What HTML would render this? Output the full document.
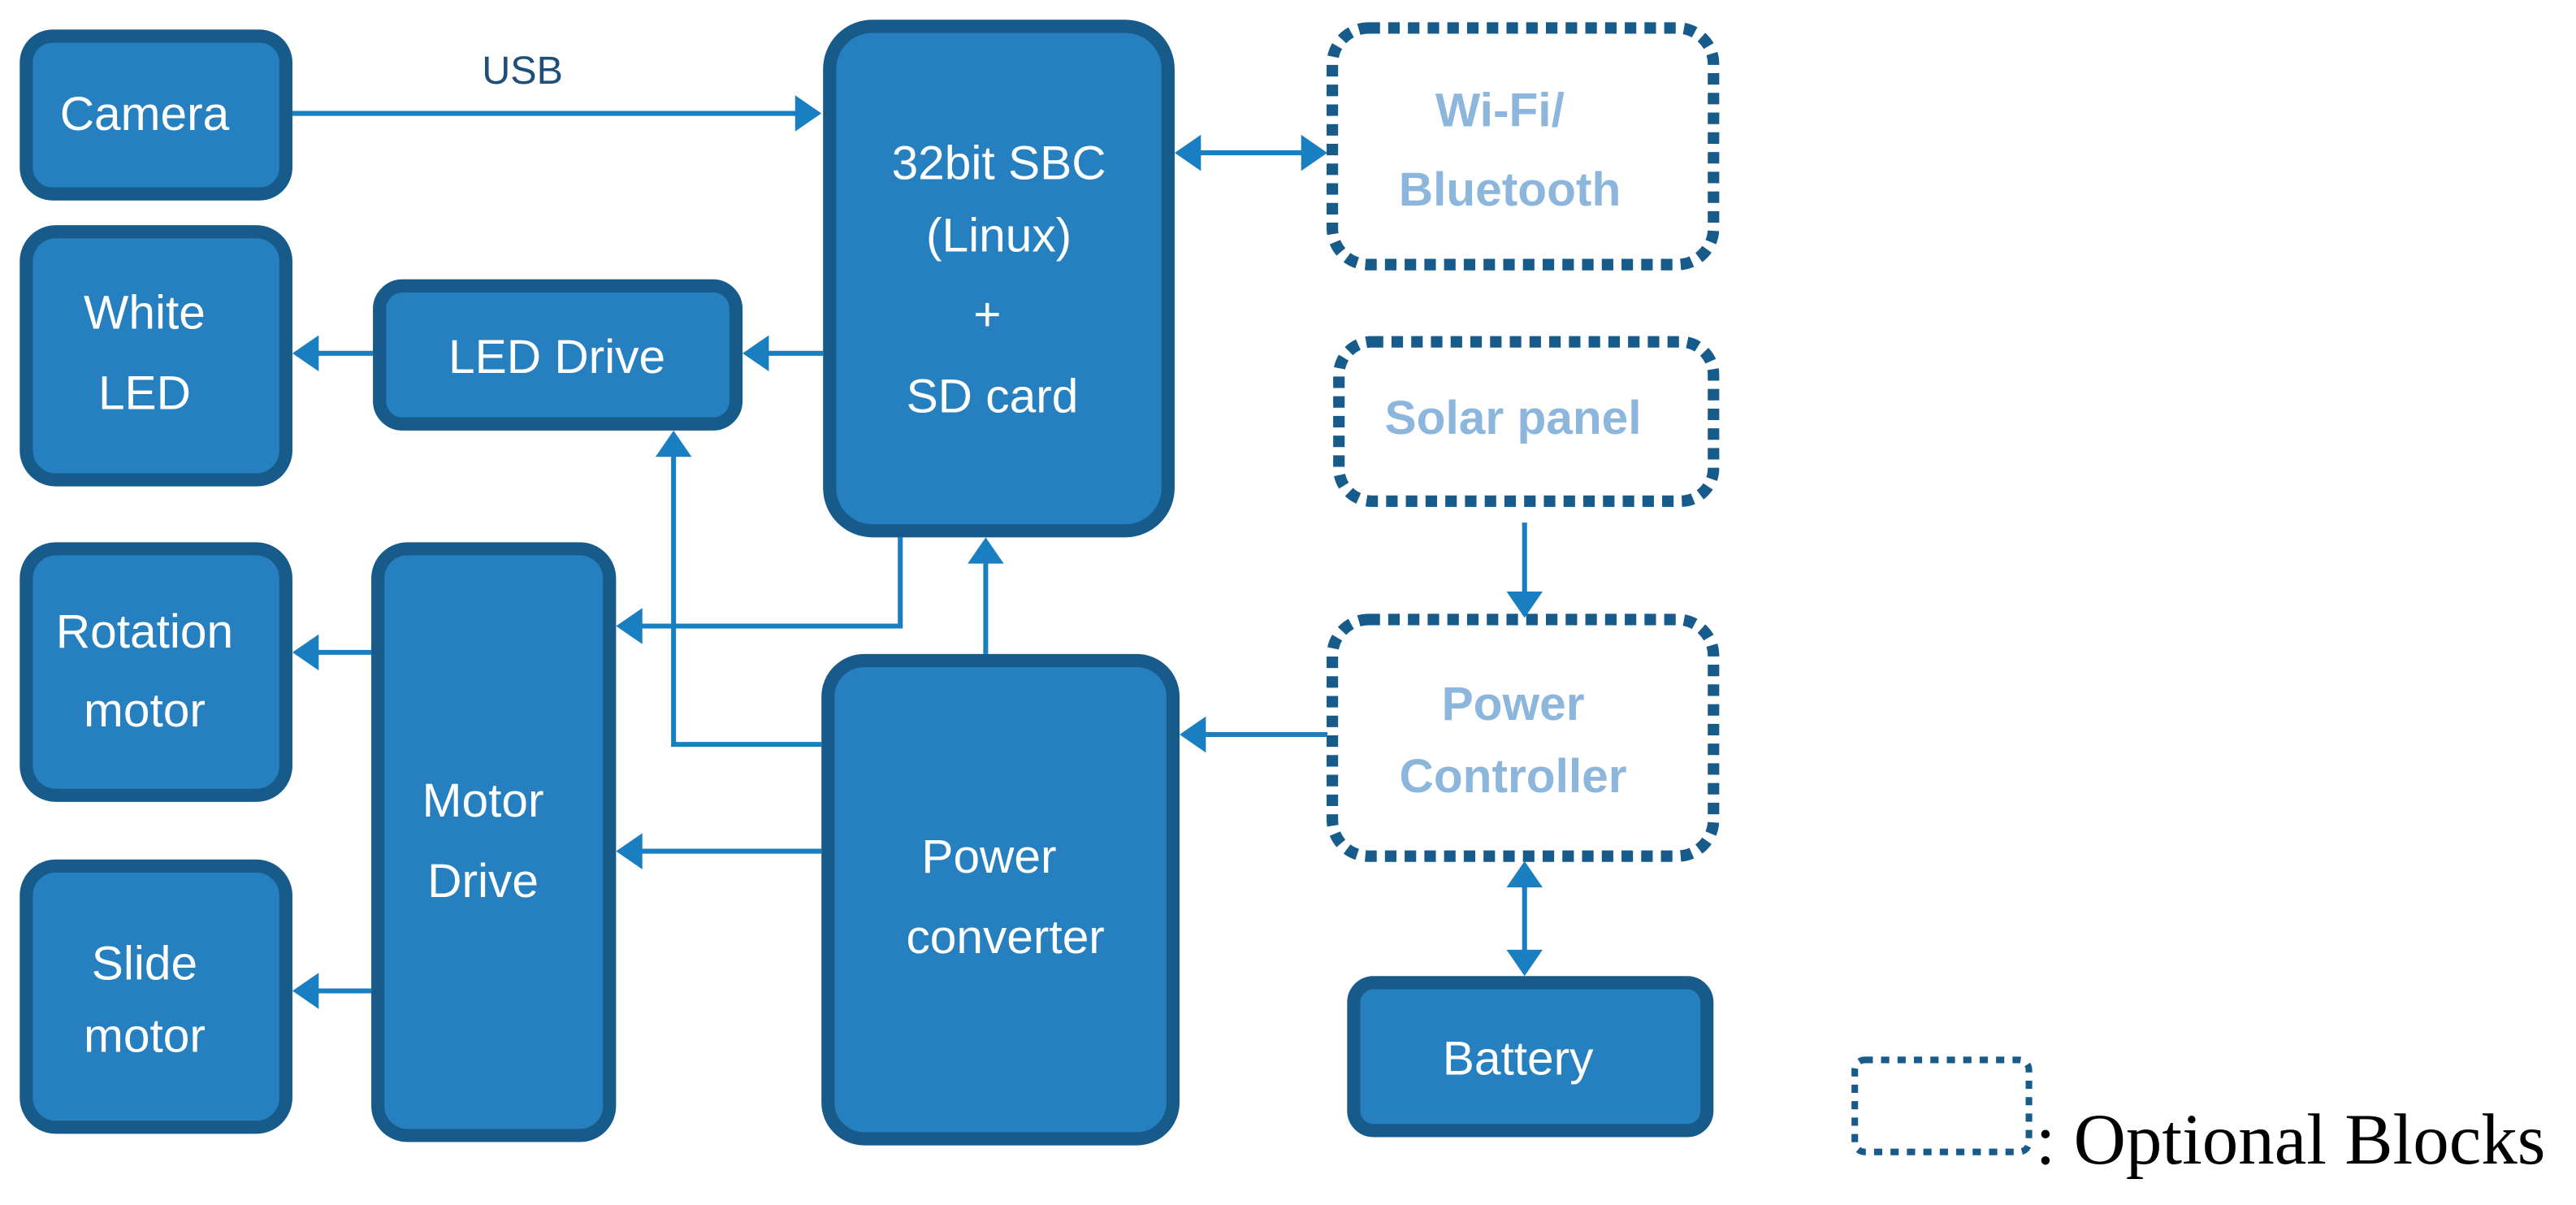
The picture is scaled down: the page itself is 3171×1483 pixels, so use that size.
<!DOCTYPE html>
<html><head><meta charset="utf-8"><style>
html,body{margin:0;padding:0;background:#fff;}
svg{display:block;}
</style></head><body>
<svg width="3171" height="1483" viewBox="0 0 1568 733.3" xmlns="http://www.w3.org/2000/svg">
<g fill="#2680c0" stroke="#175b8b" stroke-width="8">
<rect x="16" y="22" width="158" height="96" rx="16"/>
<rect x="16" y="141" width="158" height="151" rx="18"/>
<rect x="231" y="174" width="217" height="84" rx="14"/>
<rect x="505" y="16" width="206" height="307" rx="26"/>
<rect x="16" y="334" width="158" height="150" rx="18"/>
<rect x="230" y="334" width="141" height="357" rx="18"/>
<rect x="16" y="527" width="158" height="159" rx="18"/>
<rect x="504" y="402" width="210" height="291" rx="22"/>
<rect x="824" y="598" width="215" height="90" rx="12"/>
</g>
<g fill="none" stroke="#175b8b" stroke-width="7" stroke-dasharray="7 5">
<rect x="811" y="17" width="232" height="144" rx="22"/>
<rect x="815" y="208" width="228" height="97" rx="20"/>
<rect x="811" y="377" width="232" height="144" rx="22"/>
<rect x="1129" y="645" width="106" height="56" rx="6" stroke-width="4" stroke-dasharray="5 5"/>
</g>
<g stroke="#1a7fc1" stroke-width="3" fill="none">
<line x1="178" y1="69" x2="486" y2="69"/>
<line x1="730" y1="93" x2="793" y2="93"/>
<line x1="501" y1="215" x2="466" y2="215"/>
<line x1="227" y1="215" x2="192" y2="215"/>
<polyline points="548,327 548,381 389,381"/>
<line x1="600" y1="398" x2="600" y2="342"/>
<polyline points="500,453 410,453 410,276"/>
<line x1="500" y1="518" x2="389" y2="518"/>
<line x1="226" y1="397" x2="192" y2="397"/>
<line x1="226" y1="603" x2="192" y2="603"/>
<line x1="808" y1="447" x2="732" y2="447"/>
<line x1="928" y1="318" x2="928" y2="362"/>
<line x1="928" y1="538" x2="928" y2="580"/>
</g>
<g fill="#1a7fc1">
<polygon points="500,69 484,58 484,80"/>
<polygon points="715,93 731,82 731,104"/>
<polygon points="808,93 792,82 792,104"/>
<polygon points="452,215 468,204 468,226"/>
<polygon points="178,215 194,204 194,226"/>
<polygon points="375,381 391,370 391,392"/>
<polygon points="600,327 589,343 611,343"/>
<polygon points="410,262 399,278 421,278"/>
<polygon points="375,518 391,507 391,529"/>
<polygon points="178,397 194,386 194,408"/>
<polygon points="178,603 194,592 194,614"/>
<polygon points="718,447 734,436 734,458"/>
<polygon points="928,376 917,360 939,360"/>
<polygon points="928,524 917,540 939,540"/>
<polygon points="928,594 917,578 939,578"/>
</g>
<g font-family="Liberation Sans, sans-serif" font-size="29" fill="#fff" text-anchor="middle">
<text x="88" y="79">Camera</text>
<text x="88" y="200">White</text>
<text x="88" y="249">LED</text>
<text x="339" y="227">LED Drive</text>
<text x="608" y="109">32bit SBC</text>
<text x="608" y="153">(Linux)</text>
<text x="601" y="201">+</text>
<text x="604" y="251">SD card</text>
<text x="88" y="394">Rotation</text>
<text x="88" y="442">motor</text>
<text x="294" y="497">Motor</text>
<text x="294" y="546">Drive</text>
<text x="88" y="596">Slide</text>
<text x="88" y="640">motor</text>
<text x="602" y="531">Power</text>
<text x="612" y="580">converter</text>
<text x="924" y="654">Battery</text>
</g>
<g font-family="Liberation Sans, sans-serif" font-size="29" fill="#8db6dd" text-anchor="middle" font-weight="bold">
<text x="913" y="77">Wi-Fi/</text>
<text x="919" y="125">Bluetooth</text>
<text x="921" y="264">Solar panel</text>
<text x="921" y="438">Power</text>
<text x="921" y="482">Controller</text>
</g>
<text x="318" y="51" font-family="Liberation Sans, sans-serif" font-size="24" fill="#1f4e79" text-anchor="middle">USB</text>
<text x="1239" y="708" font-family="Liberation Serif, serif" font-size="44" fill="#000">: Optional Blocks</text>
</svg>
</body></html>
